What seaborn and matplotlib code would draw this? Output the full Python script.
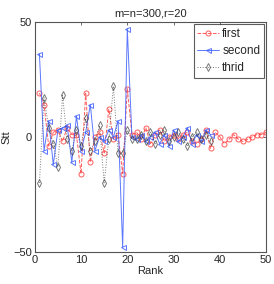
import numpy as np
import pandas as pd
import matplotlib
matplotlib.use("Agg")
import matplotlib.pyplot as plt
import seaborn as sns

# values
first = [19, 14, -4, 2, 3, -2, 4, 1, 1, -16,
         19, -11, 0, 2, -7, 12, -1, 1, -16, 21,
         1, 2, -1, 4, -3, 1, 3, -2, 0, 1,
         -1, 1, 2, -2, -3, -1, 3, -5, 2, 0,
         -3, -1, 1, -1, -2, -1, 0, 1, 1, 2]
second = [36, -6, 7, -12, 3, 4, 5, -11, 9, -6,
          2, 14, -6, 0, -2, 3, 0, 7, -48, 47,
          0, -1, 1, -2, 0, 2, -3, 1, -4, 3,
          -2, 0, 4, -3, 1, -2, 3, 1]
thrid = [-20, 17, 4, -3, -13, 18, -1, -6, 3, -4,
         8, -6, -2, 5, -20, -1, 22, -7, -7, 3,
         -1, -1, 1, -2, 2, -3, 1, 3, -2, 0,
         2, -1, -4, 0, 2, -1, 1, -2]
series_names = ["first", "second", "thrid"]
xticks = [0, 10, 20, 30, 40, 50]
yticks = [-50, 0, 50]

df = pd.concat([
    pd.DataFrame({"rank": np.arange(1, len(v) + 1), "stt": v, "series": n})
    for n, v in zip(series_names, [first, second, thrid])
])

sns.set_style("white")
plt.rcParams['font.family'] = ['Liberation Sans', 'DejaVu Sans']
plt.rcParams['font.size'] = 8

fig = plt.figure(figsize=(2.74, 2.84), dpi=100)
ax = fig.add_axes([0.127, 0.113, 0.844, 0.81])

styles = {
    "first": dict(color="#ff4040", linestyle="--", marker="o"),
    "second": dict(color="#4060ff", linestyle="-", marker="<"),
    "thrid": dict(color="#404040", linestyle=":", marker="d"),
}
for name in series_names:
    st = styles[name]
    sub = df[df["series"] == name]
    sns.lineplot(data=sub, x="rank", y="stt", ax=ax, label=name,
                 color=st["color"], linestyle=st["linestyle"], marker=st["marker"],
                 markersize=3.6, markerfacecolor="none", markeredgecolor=st["color"],
                 markeredgewidth=0.7, linewidth=0.7,
                 alpha=0.85 if name != "thrid" else 0.7)

ax.set_xlim(0, 50)
ax.set_ylim(-50, 50)
ax.set_xticks(xticks)
ax.set_yticks(yticks)
ax.set_xlabel("Rank", labelpad=1)
ax.set_ylabel("Stt", labelpad=1)
ax.set_title("m=n=300,r=20", fontsize=8, pad=4)
ax.tick_params(direction="in", length=2.5, width=0.6, top=True, right=True,
               labelsize=8, pad=2, color="#555555")
for sp in ax.spines.values():
    sp.set_color("#555555")
    sp.set_linewidth(0.8)

leg = ax.legend(loc="upper right", fontsize=8.5, frameon=True, fancybox=False,
                numpoints=1, borderpad=0.3, handlelength=1.8, handletextpad=0.3,
                labelspacing=0.45, borderaxespad=0.2)
leg.get_frame().set_edgecolor("#333333")
leg.get_frame().set_linewidth(0.8)

fig.savefig("out.png", dpi=100)
